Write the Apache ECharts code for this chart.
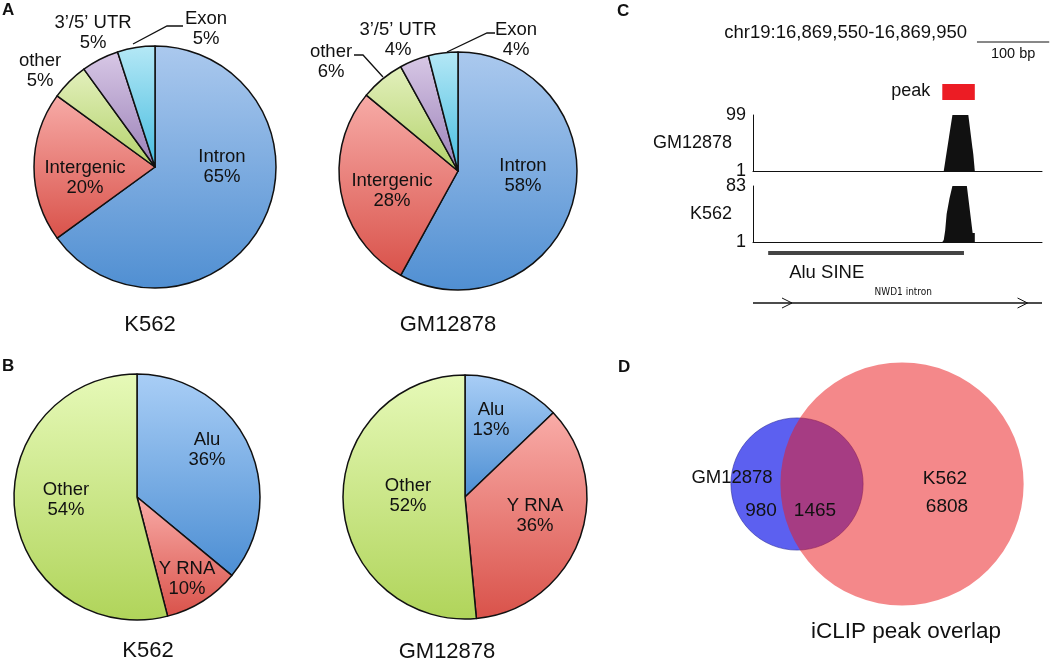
<!DOCTYPE html>
<html><head><meta charset="utf-8">
<script src="https://cdn.jsdelivr.net/npm/echarts@6/dist/echarts.min.js"></script>
<style>html,body{margin:0;padding:0;background:#fff}#c{width:1050px;height:660px}</style>
</head><body><div id="c"></div>
<script>
// ---------- Panel A: genomic regions (%) ----------
const regionNames = ['Intron', 'Intergenic', 'other', '3\u2019/5\u2019 UTR', 'Exon'];
const regionK562 = [65, 20, 5, 5, 5];
const regionGM12878 = [58, 28, 6, 4, 4];
// ---------- Panel B: repeat classes (%) ----------
const repeatNames = ['Alu', 'Y RNA', 'Other'];
const repeatK562 = [36, 10, 54];
const repeatGM12878 = [13, 36, 52];
const cellLines = ['K562', 'GM12878'];
// ---------- Panel C: locus coverage ----------
const chrom = 'chr19';
const locusStart = 16869550, locusEnd = 16869950;
const trackNames = ['GM12878', 'K562'];
const trackMin = [1, 1];
const trackMax = [99, 83];
const covGMpos = [16869814, 16869826, 16869848, 16869855, 16869857, 16869857];
const covGMval = [1, 99, 99, 29, 29, 1];
const covK562pos = [16869812, 16869814, 16869816, 16869818, 16869822, 16869826, 16869846, 16869854, 16869857, 16869857];
const covK562val = [1, 4, 18, 42, 65, 83, 83, 14, 14, 1];
const peakRegion = [16869812, 16869857];
const aluRegion = [16869571, 16869842];
const aluName = 'Alu SINE';
const intronRegion = [16869550, 16869950];
const intronName = 'NWD1 intron';
const scaleBarBp = 100;
// ---------- Panel D: Venn ----------
const vennNames = ['GM12878', 'K562'];
const vennOnly = [980, 6808];
const vennShared = 1465;
const vennTitle = 'iCLIP peak overlap';

// ---------- styles / layout ----------
const FONT = '"Liberation Sans", Arial, sans-serif';
const INK = '#111';
const regionPalette = [['#abc9ee', '#508fd2'], ['#f7aba7', '#d9524a'], ['#e3f0bd', '#b3d26a'], ['#d8c8e6', '#9a80b7'], ['#b5e8f6', '#46bcdf']];
const repeatPalette = [['#a9cef6', '#4c8ed3'], ['#f9aca8', '#d9524a'], ['#e6f9b8', '#b0d45a']];
function grad(p) {
  return { type: 'linear', x: 0, y: 0, x2: 0, y2: 1, colorStops: [{ offset: 0, color: p[0] }, { offset: 1, color: p[1] }] };
}

function pieSeries(names, values, palette, center, radius, labelPos, leaders) {
  return {
    type: 'pie', center: center, radius: radius, startAngle: 90, clockwise: true,
    avoidLabelOverlap: false, silent: true, animation: false,
    label: { show: true, formatter: '{b}\n{c}%', fontSize: 18.5, lineHeight: 20, color: INK, fontFamily: FONT, textBorderWidth: 0 },
    labelLine: { show: true, length: 5, length2: 5, lineStyle: { color: INK, width: 1.3 } },
    itemStyle: { borderColor: INK, borderWidth: 1.5 },
    emphasis: { disabled: true },
    labelLayout: function (p) {
      const pos = labelPos[p.dataIndex];
      const o = { x: pos[0], y: pos[1], align: 'center', verticalAlign: 'middle', rotate: 0 };
      if (leaders[p.dataIndex]) o.labelLinePoints = leaders[p.dataIndex];
      return o;
    },
    data: names.map(function (n, i) {
      return {
        name: n, value: values[i],
        itemStyle: { color: grad(palette[i]) },
        label: { position: leaders[i] ? 'outside' : 'inside' },
        labelLine: { show: !!leaders[i] }
      };
    })
  };
}

// area-proportional Venn geometry
function lens(r1, r2, d) {
  if (d >= r1 + r2) return 0;
  if (d <= Math.abs(r1 - r2)) return Math.PI * Math.min(r1, r2) ** 2;
  const a = r1 * r1 * Math.acos((d * d + r1 * r1 - r2 * r2) / (2 * d * r1));
  const b = r2 * r2 * Math.acos((d * d + r2 * r2 - r1 * r1) / (2 * d * r2));
  const c = 0.5 * Math.sqrt((-d + r1 + r2) * (d + r1 - r2) * (d - r1 + r2) * (d + r1 + r2));
  return a + b - c;
}
const rA = Math.sqrt((vennOnly[0] + vennShared) / Math.PI);
const rB = Math.sqrt((vennOnly[1] + vennShared) / Math.PI);
let lo = Math.abs(rA - rB), hi = rA + rB;
for (let k = 0; k < 60; k++) { const m = (lo + hi) / 2; if (lens(rA, rB, m) > vennShared) lo = m; else hi = m; }
const vennD = (lo + hi) / 2;
const vennCx = 45.15, vennCy = 74.26; // layout anchor of the first set (axis units)
const vennData = [[vennCx, vennCy, rA], [vennCx + vennD, vennCy, rB]];
const vennFill = ['rgb(92,96,240)', 'rgba(234,26,30,0.52)'];
const vennStroke = ['rgba(40,40,150,0.55)', 'rgba(0,0,0,0)'];

function fmtNum(n) { return String(n).replace(/\B(?=(\d{3})+(?!\d))/g, ','); }
function txt(text, x, y, size, opt) {
  opt = opt || {};
  const al = opt.align || 'center';
  return { type: 'text', x: x, y: y, silent: true, z: 10,
    style: { text: text, font: (opt.bold ? 'bold ' : '') + size + 'px ' + (opt.family || FONT), fill: INK,
      textAlign: al, textVerticalAlign: 'middle', align: al, verticalAlign: 'middle' } };
}
function tstyle(text, x, y, size, al, family) {
  return { text: text, x: x, y: y, font: size + 'px ' + (family || FONT), fill: INK,
    textAlign: al, textVerticalAlign: 'middle', align: al, verticalAlign: 'middle' };
}

const trackNamePad = [[0, 0, 0, 0], [0, 0, 11, 0]];
const option = {
  backgroundColor: '#fff',
  animation: false,
  grid: [
    { left: 753, top: 115, width: 289, height: 56 },
    { left: 753, top: 186, width: 289, height: 56 },
    { left: 753, top: 0, width: 289, height: 330 },
    { left: 690, top: 330, width: 360, height: 330 }
  ],
  xAxis: [0, 1].map(function (g) {
    return { type: 'value', gridIndex: g, min: locusStart, max: locusEnd, axisLabel: { show: false }, axisTick: { show: false },
      splitLine: { show: false }, axisLine: { show: true, onZero: false, lineStyle: { color: INK, width: 1 } } };
  }).concat([
    { type: 'value', gridIndex: 2, min: locusStart, max: locusEnd, show: false },
    { type: 'value', gridIndex: 3, min: 0, max: 151.9, show: false }
  ]),
  yAxis: [0, 1].map(function (g) {
    return {
      type: 'value', gridIndex: g, min: trackMin[g], max: trackMax[g], name: trackNames[g],
      axisTick: { show: false }, splitLine: { show: false },
      axisLine: { show: true, lineStyle: { color: INK, width: 1 } },
      nameLocation: 'middle', nameRotate: 0, nameGap: 21, nameMoveOverlap: false,
      nameTextStyle: { fontSize: 18, fontFamily: FONT, color: INK, padding: trackNamePad[g] },
      axisLabel: { show: true, customValues: [trackMin[g], trackMax[g]], fontSize: 18, fontFamily: FONT, color: INK, margin: 7 }
    };
  }).concat([
    { type: 'value', gridIndex: 2, min: 0, max: 330, inverse: true, show: false },
    { type: 'value', gridIndex: 3, min: 0, max: 139.24, show: false }
  ]),
  series: [
    pieSeries(regionNames, regionK562, regionPalette, [155, 167], 121,
      [[222, 167], [85, 178], [40, 71], [93, 33], [206, 29]],
      [null, null, null, null, [[133, 44], [167, 26], [183, 26]]]),
    pieSeries(regionNames, regionGM12878, regionPalette, [458, 171], 119,
      [[523, 176], [392, 191], [331, 62], [398, 40], [516, 40]],
      [null, null, [[383, 77], [363, 55], [354, 55]], null, [[447, 52], [487, 33], [495, 33]]]),
    pieSeries(repeatNames, repeatK562, repeatPalette, [137, 497], 123,
      [[207, 450], [187, 579], [66, 500]], [null, null, null]),
    pieSeries(repeatNames, repeatGM12878, repeatPalette, [465, 497], 122,
      [[491, 420], [535, 516], [408, 496]], [null, null, null]),
    {
      type: 'line', xAxisIndex: 0, yAxisIndex: 0, symbol: 'none', silent: true, color: INK,
      lineStyle: { width: 0 }, areaStyle: { color: INK, opacity: 1, origin: 'start' },
      data: covGMpos.map(function (p, i) { return [p, covGMval[i]]; })
    },
    {
      type: 'line', xAxisIndex: 1, yAxisIndex: 1, symbol: 'none', silent: true, color: INK,
      lineStyle: { width: 0 }, areaStyle: { color: INK, opacity: 1, origin: 'start' },
      data: covK562pos.map(function (p, i) { return [p, covK562val[i]]; })
    },
    { // peak box
      type: 'custom', xAxisIndex: 2, yAxisIndex: 2, clip: false, silent: true,
      data: [[peakRegion[0], peakRegion[1], 92]],
      renderItem: function (params, api) {
        const a = api.coord([api.value(0), api.value(2)]), b = api.coord([api.value(1), api.value(2)]);
        return { type: 'group', children: [
          { type: 'rect', shape: { x: a[0], y: a[1] - 8, width: b[0] - a[0], height: 16 }, style: { fill: '#ec1c24' } },
          { type: 'text', style: tstyle('peak', a[0] - 12, a[1] - 1, 18, 'right') }
        ] };
      }
    },
    { // Alu element
      type: 'custom', xAxisIndex: 2, yAxisIndex: 2, clip: false, silent: true,
      data: [[aluRegion[0], aluRegion[1], 253]],
      renderItem: function (params, api) {
        const a = api.coord([api.value(0), api.value(2)]), b = api.coord([api.value(1), api.value(2)]);
        return { type: 'group', children: [
          { type: 'line', shape: { x1: a[0], y1: a[1], x2: b[0], y2: b[1] }, style: { stroke: '#444', lineWidth: 4 } },
          { type: 'text', style: tstyle(aluName, a[0] + 21, a[1] + 20, 18.5, 'left') }
        ] };
      }
    },
    { // intron with strand arrows
      type: 'custom', xAxisIndex: 2, yAxisIndex: 2, clip: false, silent: true,
      data: [[intronRegion[0], intronRegion[1], 303]],
      renderItem: function (params, api) {
        const a = api.coord([api.value(0), api.value(2)]), b = api.coord([api.value(1), api.value(2)]);
        const L = b[0] - a[0];
        const ch = [0.135, 0.95].map(function (f) {
          const tx = a[0] + f * L;
          return { type: 'polyline', shape: { points: [[tx - 10, a[1] - 5], [tx, a[1]], [tx - 10, a[1] + 5]] }, style: { stroke: INK, lineWidth: 1, fill: null } };
        });
        return { type: 'group', children: [
          { type: 'line', shape: { x1: a[0], y1: a[1], x2: b[0], y2: b[1] }, style: { stroke: INK, lineWidth: 1.5 } },
          { type: 'text', style: tstyle(intronName, a[0] + L * 0.52, a[1] - 11, 10, 'center', '"Liberation Sans Narrow", "DejaVu Sans Condensed", ' + FONT) }
        ].concat(ch) };
      }
    },
    { // scale bar
      type: 'custom', xAxisIndex: 2, yAxisIndex: 2, clip: false, silent: true,
      data: [[locusEnd - 90, locusEnd - 90 + scaleBarBp, 42]],
      renderItem: function (params, api) {
        const a = api.coord([api.value(0), api.value(2)]), b = api.coord([api.value(1), api.value(2)]);
        return { type: 'group', children: [
          { type: 'line', shape: { x1: a[0], y1: a[1], x2: b[0], y2: b[1] }, style: { stroke: INK, lineWidth: 1 } },
          { type: 'text', style: tstyle(scaleBarBp + ' bp', (a[0] + b[0]) / 2, a[1] + 12, 14.5, 'center') }
        ] };
      }
    },
    { // Venn circles
      type: 'custom', xAxisIndex: 3, yAxisIndex: 3, clip: false, silent: true,
      data: vennData,
      renderItem: function (params, api) {
        const c = api.coord([api.value(0), api.value(1)]);
        const r = api.size([api.value(2), 0])[0];
        return { type: 'circle', shape: { cx: c[0], cy: c[1], r: r },
          style: { fill: vennFill[params.dataIndex], stroke: vennStroke[params.dataIndex], lineWidth: 1 } };
      }
    }
  ],
  graphic: [
    txt('A', 2, 10, 17, { bold: true, align: 'left' }),
    txt('B', 2, 366, 17, { bold: true, align: 'left' }),
    txt('C', 617, 11, 17, { bold: true, align: 'left' }),
    txt('D', 618, 367, 17, { bold: true, align: 'left' }),
    txt(cellLines[0], 150, 325, 22),
    txt(cellLines[1], 448, 325, 22),
    txt(cellLines[0], 148, 651, 22),
    txt(cellLines[1], 447, 652, 22),
    txt(chrom + ':' + fmtNum(locusStart) + '-' + fmtNum(locusEnd), 967, 33, 18.5, { align: 'right' }),
    txt(vennNames[0], 732, 478, 18.5),
    txt(String(vennOnly[0]), 761, 511, 19),
    txt(String(vennShared), 815, 511, 19),
    txt(vennNames[1], 945, 479, 19),
    txt(String(vennOnly[1]), 947, 507, 19),
    txt(vennTitle, 906, 632, 22.5)
  ]
};

const chart = echarts.init(document.getElementById('c'), null, { renderer: 'canvas' });
chart.setOption(option);
</script>
</body></html>
